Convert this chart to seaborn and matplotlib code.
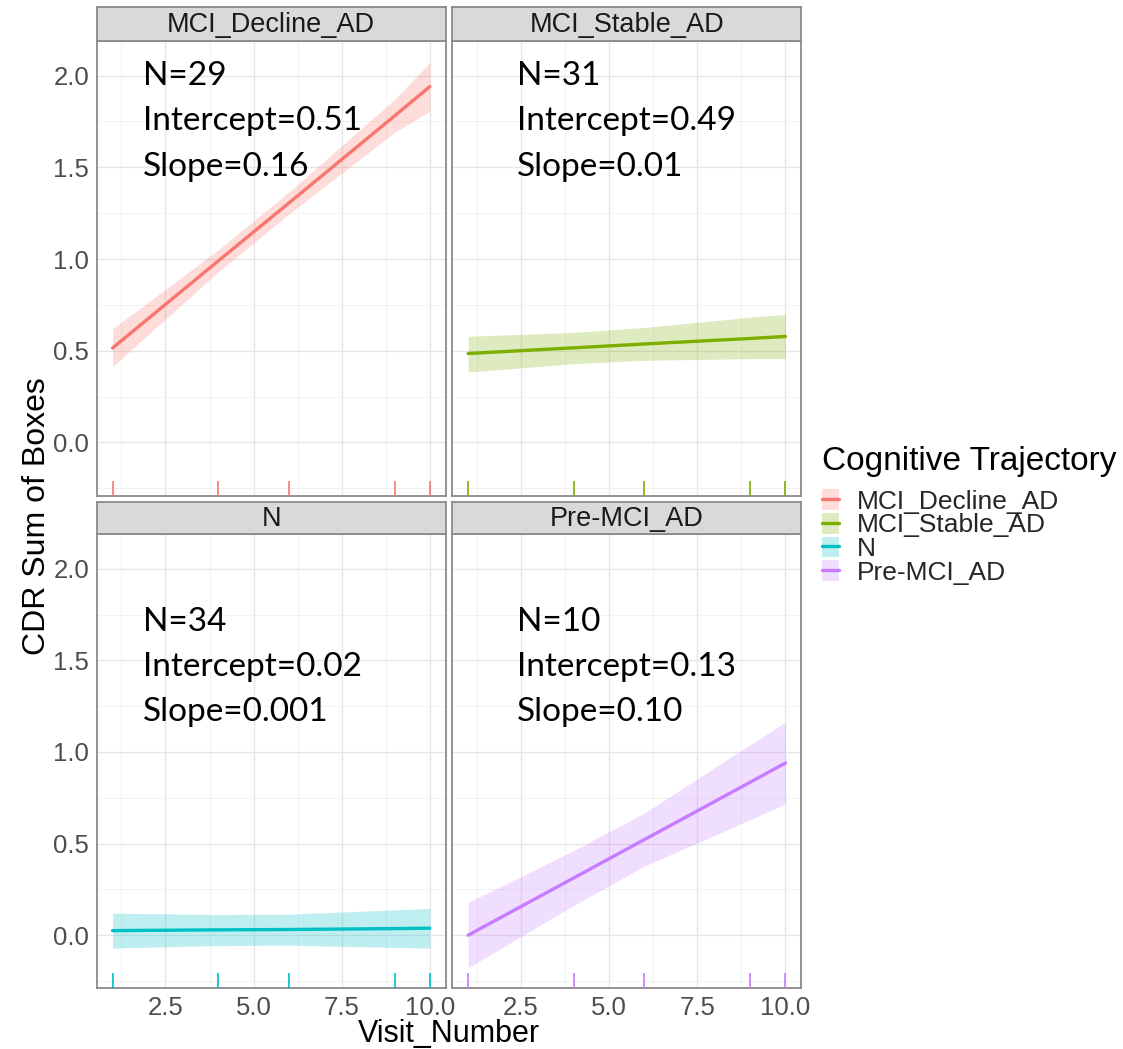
import matplotlib
matplotlib.use("Agg")
import matplotlib.pyplot as plt
import pandas as pd
import seaborn as sns
from matplotlib.patches import Patch
from matplotlib.lines import Line2D

# ---- data -------------------------------------------------------------
groups = ["MCI_Decline_AD", "MCI_Stable_AD", "N", "Pre-MCI_AD"]
palette = ["#F8766D", "#7CAE00", "#00BFC4", "#C77CFF"]
visits = [1, 4, 6, 9, 10]

decline_fit = [0.515, 0.99, 1.305, 1.78, 1.94]
decline_lo = [0.415, 0.93, 1.245, 1.69, 1.805]
decline_hi = [0.62, 1.05, 1.365, 1.87, 2.07]

stable_fit = [0.485, 0.516, 0.537, 0.567, 0.578]
stable_lo = [0.384, 0.43, 0.448, 0.457, 0.457]
stable_hi = [0.579, 0.60, 0.627, 0.683, 0.698]

normal_fit = [0.025, 0.029, 0.031, 0.036, 0.038]
normal_lo = [-0.07, -0.057, -0.055, -0.067, -0.07]
normal_hi = [0.12, 0.113, 0.115, 0.138, 0.146]

premci_fit = [0.0, 0.313, 0.522, 0.835, 0.94]
premci_lo = [-0.178, 0.163, 0.377, 0.63, 0.717]
premci_hi = [0.178, 0.463, 0.667, 1.04, 1.163]

n_subjects = [29, 31, 34, 10]
intercepts = ["0.51", "0.49", "0.02", "0.13"]
slopes = ["0.16", "0.01", "0.001", "0.10"]

fits = [decline_fit, stable_fit, normal_fit, premci_fit]
lows = [decline_lo, stable_lo, normal_lo, premci_lo]
highs = [decline_hi, stable_hi, normal_hi, premci_hi]

frames = []
for g, f, lo, hi in zip(groups, fits, lows, highs):
    frames.append(pd.DataFrame({"Visit_Number": visits, "fit": f,
                                "lower": lo, "upper": hi, "group": g}))
df = pd.concat(frames, ignore_index=True)

# ---- style ------------------------------------------------------------
sns.set_style("white")
plt.rcParams["font.family"] = ["Liberation Sans", "DejaVu Sans"]

W, H = 1123, 1049
fig = plt.figure(figsize=(W / 100, H / 100), dpi=100)


def px_axes(x0, y0, x1, y1):
    return fig.add_axes([x0 / W, 1 - y1 / H, (x1 - x0) / W, (y1 - y0) / H])


cols = [(96.7, 445.7), (452.3, 801.3)]
rows = [(40.7, 495.7), (534.0, 988.3)]
strips = [(7.3, 40.7), (501.7, 534.0)]

border = "#8a8a8a"
tick_col = "#4D4D4D"
xlim = (0.55, 10.45)
ylim = (-0.29, 2.19)
text_x = [1.85, 2.38]
text_y0 = [1.947, 1.661]
line_step = 0.246

for i, g in enumerate(groups):
    r, c = divmod(i, 2)
    x0, x1 = cols[c]
    y0, y1 = rows[r]
    ax = px_axes(x0, y0, x1, y1)
    sub = df[df["group"] == g]
    col = palette[i]

    ax.set_xlim(*xlim)
    ax.set_ylim(*ylim)
    ax.set_xticks([2.5, 5.0, 7.5, 10.0])
    ax.set_xticklabels(["2.5", "5.0", "7.5", "10.0"])
    ax.set_yticks([0.0, 0.5, 1.0, 1.5, 2.0])
    ax.set_yticklabels(["0.0", "0.5", "1.0", "1.5", "2.0"])
    ax.set_xticks([1.25, 3.75, 6.25, 8.75], minor=True)
    ax.set_yticks([-0.25, 0.25, 0.75, 1.25, 1.75], minor=True)
    ax.grid(True, which="major", color="#E6E6E6", linewidth=1.0, zorder=0)
    ax.grid(True, which="minor", color="#F2F2F2", linewidth=0.7, zorder=0)
    ax.set_axisbelow(True)
    ax.tick_params(which="minor", length=0)
    ax.tick_params(which="major", length=3.5, width=0.8, color="#333333",
                   labelsize=18.5, labelcolor=tick_col, pad=2)
    if r == 0:
        ax.tick_params(axis="x", which="major", length=0, labelbottom=False)
    if c == 1:
        ax.tick_params(axis="y", which="major", length=0, labelleft=False)
    for sp in ax.spines.values():
        sp.set_color(border)
        sp.set_linewidth(1.3)

    ax.fill_between(sub["Visit_Number"], sub["lower"], sub["upper"],
                    color=col, alpha=0.25, linewidth=0, zorder=2)
    sns.lineplot(data=sub, x="Visit_Number", y="fit", color=col,
                 linewidth=2.4, ax=ax, zorder=3)
    sns.rugplot(data=sub, x="Visit_Number", height=0.033, color=col,
                linewidth=1.2, ax=ax, zorder=3)
    ax.set_xlabel("")
    ax.set_ylabel("")

    lines = [f"N={n_subjects[i]}", f"Intercept={intercepts[i]}",
             f"Slope={slopes[i]}"]
    for k, t in enumerate(lines):
        ax.text(text_x[c], text_y0[r] - k * line_step, t, fontsize=24,
                family=["Lato", "DejaVu Sans"], color="black",
                va="baseline", ha="left", zorder=4)

    # facet strip
    s0, s1 = strips[r]
    sax = px_axes(x0, s0, x1, s1)
    sax.set_facecolor("#D9D9D9")
    sax.set_xticks([])
    sax.set_yticks([])
    for sp in sax.spines.values():
        sp.set_color(border)
        sp.set_linewidth(1.3)
    sax.text(0.5, 0.47, g, ha="center", va="center", fontsize=19.5,
             color="#1A1A1A", transform=sax.transAxes)

# axis titles
fig.text(449 / W, 1 - 1034 / H, "Visit_Number", ha="center", va="center",
         fontsize=22, color="black")
fig.text(37 / W, 1 - 516.5 / H, "CDR Sum of Boxes", ha="center",
         va="center", rotation=90, fontsize=23, color="black")

# legend
fig.text(821.7 / W, 1 - 462 / H, "Cognitive Trajectory", ha="left",
         va="center", fontsize=24, color="black")
handles = [(Patch(facecolor=c, alpha=0.25, linewidth=0),
            Line2D([], [], color=c, linewidth=2.4)) for c in palette]
fig.legend(handles, groups, loc="upper left",
           bbox_to_anchor=(821.7 / W, 1 - 489 / H), frameon=False,
           fontsize=19, handlelength=0.67, handleheight=0.84,
           handletextpad=0.68, labelspacing=-0.03, borderpad=0,
           borderaxespad=0)

fig.savefig("out.png", dpi=100)
